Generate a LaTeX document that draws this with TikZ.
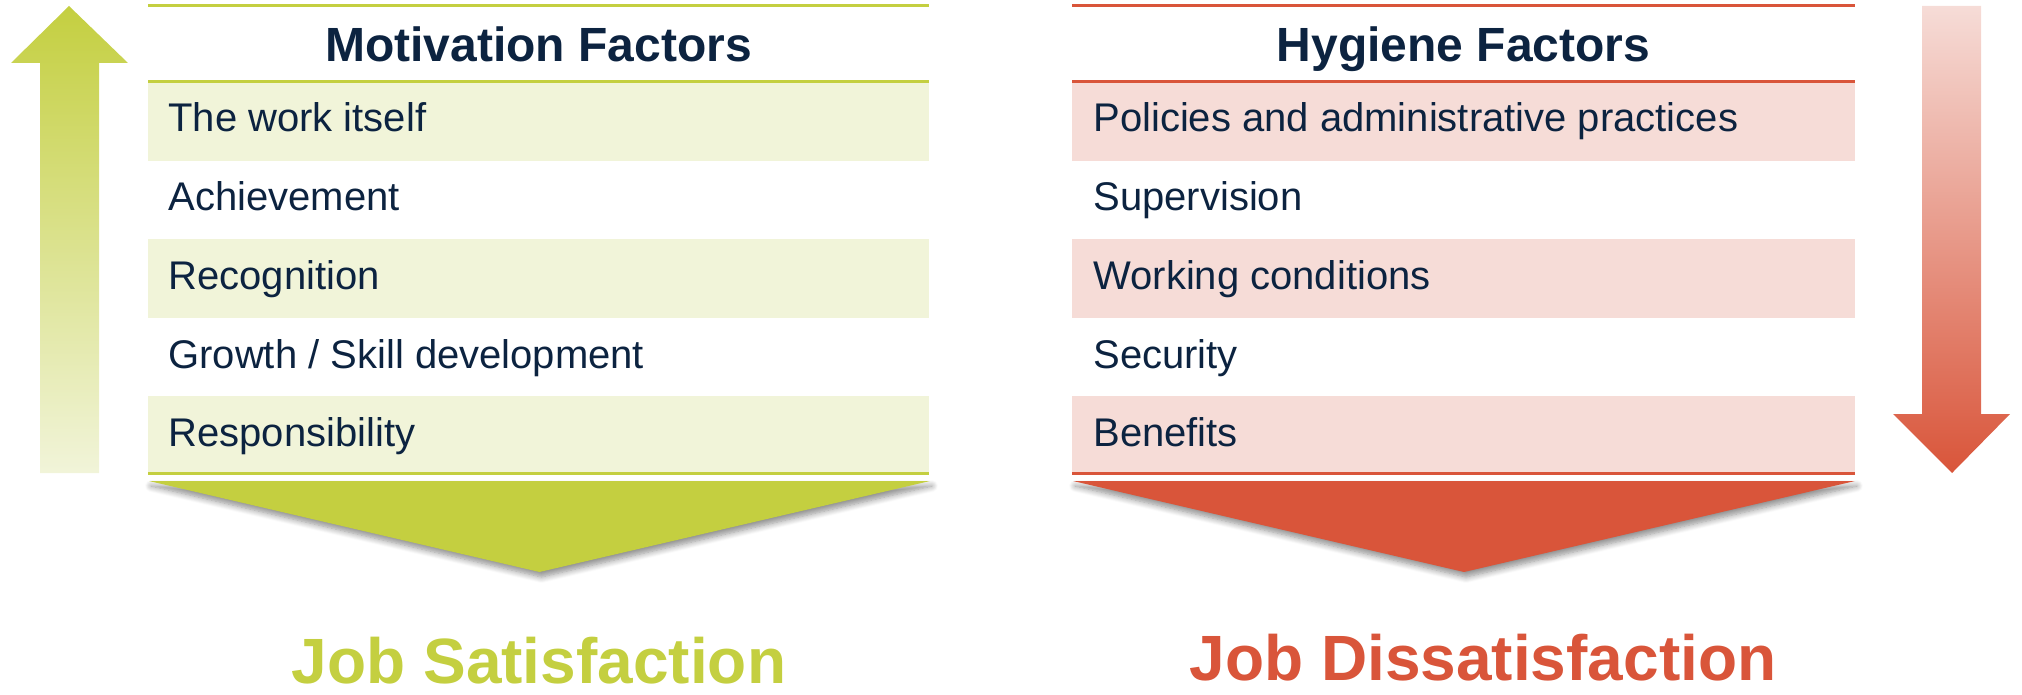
\documentclass[tikz,border=0pt]{standalone}
\usepackage{fontspec}
\setmainfont{Liberation Sans}
\usetikzlibrary{shadows.blur}
\definecolor{satgreen}{HTML}{C4CF40}
\definecolor{satpale}{HTML}{F1F4D9}
\definecolor{disred}{HTML}{D9553A}
\definecolor{dispale}{HTML}{F6DCD7}
\definecolor{navy}{HTML}{0C2340}
\begin{document}
\begin{tikzpicture}[x=0.5pt,y=-0.5pt,
  item/.style={anchor=base west, font=\fontsize{20}{24}\selectfont, text=navy, inner sep=0pt},
  header/.style={anchor=base, font=\bfseries\fontsize{24}{28}\selectfont, text=navy, inner sep=0pt},
  result/.style={anchor=base, font=\bfseries\fontsize{32}{38}\selectfont, inner sep=0pt},
  rule/.style={line width=1.5pt},
  chevshadow/.style={blur shadow={shadow xshift=1pt, shadow yshift=-2.5pt, shadow blur steps=8, shadow blur radius=3pt, shadow opacity=45}}]
\useasboundingbox (0,0) rectangle (2022,695);

% ---------- motivation column ----------
\foreach \t/\b in {82/161, 239/318, 396/473}
  \fill[satpale] (148,\t) rectangle (929,\b);
\foreach \y in {6, 82, 473}
  \draw[rule, satgreen] (148,\y) -- (929,\y);
\node[header] (mhead) at (538.5,62) {Motivation Factors};
\node[item] (m1) at (168,132) {The work itself};
\node[item] (m2) at (168,211) {Achievement};
\node[item] (m3) at (168,289) {Recognition};
\node[item] (m4) at (168,368) {Growth / Skill development};
\node[item] (m5) at (168,446) {Responsibility};

\fill[satgreen, chevshadow] (149,481) -- (930,481) -- (539.5,572) -- cycle;
\node[result, text=satgreen] (sat) at (539,683) {Job Satisfaction};

% rising arrow
\shade[top color=satgreen, bottom color=satpale]
  (40,473) -- (40,63) -- (11,63) -- (69,6) -- (128,63) -- (99,63) -- (99,473) -- cycle;

% ---------- hygiene column ----------
\foreach \t/\b in {82/161, 239/318, 396/473}
  \fill[dispale] (1072,\t) rectangle (1855,\b);
\foreach \y in {6, 82, 473}
  \draw[rule, disred] (1072,\y) -- (1855,\y);
\node[header] (hhead) at (1463.5,62) {Hygiene Factors};
\node[item] (h1) at (1093,132) {Policies and administrative practices};
\node[item] (h2) at (1093,211) {Supervision};
\node[item] (h3) at (1093,289) {Working conditions};
\node[item] (h4) at (1093,368) {Security};
\node[item] (h5) at (1093,446) {Benefits};

\fill[disred, chevshadow] (1073,481) -- (1855,481) -- (1464,572) -- cycle;
\node[result, text=disred] (dis) at (1483,680) {Job Dissatisfaction};

% falling arrow
\shade[top color=dispale, bottom color=disred]
  (1922,6) -- (1981,6) -- (1981,414) -- (2010,414) -- (1952,473) -- (1893,414) -- (1922,414) -- cycle;
\end{tikzpicture}
\end{document}
